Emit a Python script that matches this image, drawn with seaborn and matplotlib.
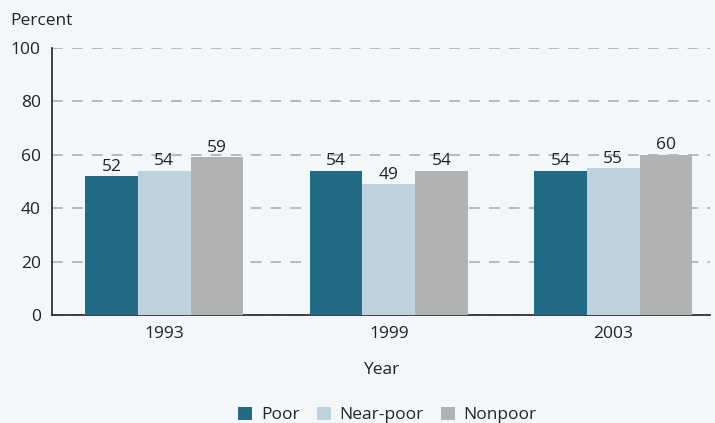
import pandas as pd
import seaborn as sns
import matplotlib.pyplot as plt

years = ["1993", "1999", "2003"]
groups = ["Poor", "Near-poor", "Nonpoor"]
poor = [52, 54, 54]
near_poor = [54, 49, 55]
nonpoor = [59, 54, 60]
colors = ["#236A87", "#BDD2DD", "#B2B2B2"]

df = pd.DataFrame({
    "Year": years * 3,
    "Group": [g for g in groups for _ in years],
    "Percent": poor + near_poor + nonpoor,
})

sns.set_style("white")
plt.rcParams["font.family"] = ["Open Sans", "DejaVu Sans"]
bg = "#F3F7F9"
fs = 12.5

fig = plt.figure(figsize=(7.15, 4.23), dpi=100, facecolor=bg)
ax = fig.add_axes([0.0727, 0.2553, 0.920, 0.6312])
ax.set_facecolor(bg)

sns.barplot(data=df, x="Year", y="Percent", hue="Group", palette=colors,
            width=0.705, saturation=1, linewidth=0, ax=ax, zorder=3)

for c in ax.containers:
    ax.bar_label(c, fmt="%d", fontsize=fs, padding=1, color="#222222")

ax.set_ylim(0, 100)
ax.set_xlim(-0.5, 2.43)
ax.set_yticks(range(0, 101, 20))
ax.yaxis.grid(True, linestyle=(0, (7, 6)), color="#A8A8A8", linewidth=1.1, zorder=0)
ax.tick_params(axis="both", length=0, labelsize=fs, colors="#222222", pad=8)
for s in ["top", "right"]:
    ax.spines[s].set_visible(False)
for s in ["left", "bottom"]:
    ax.spines[s].set_color("#222222")
    ax.spines[s].set_linewidth(1.2)

ax.set_ylabel("")
ax.set_xlabel("Year", fontsize=fs, color="#222222", labelpad=14)
fig.text(0.014, 0.94, "Percent", fontsize=fs, color="#222222")

ax.legend(loc="center", bbox_to_anchor=(0.51, -0.375), ncol=3, frameon=False,
          fontsize=fs, handlelength=0.8, handleheight=0.8, columnspacing=1.0,
          handletextpad=0.5)

fig.savefig("out.png", dpi=100, facecolor=bg)
